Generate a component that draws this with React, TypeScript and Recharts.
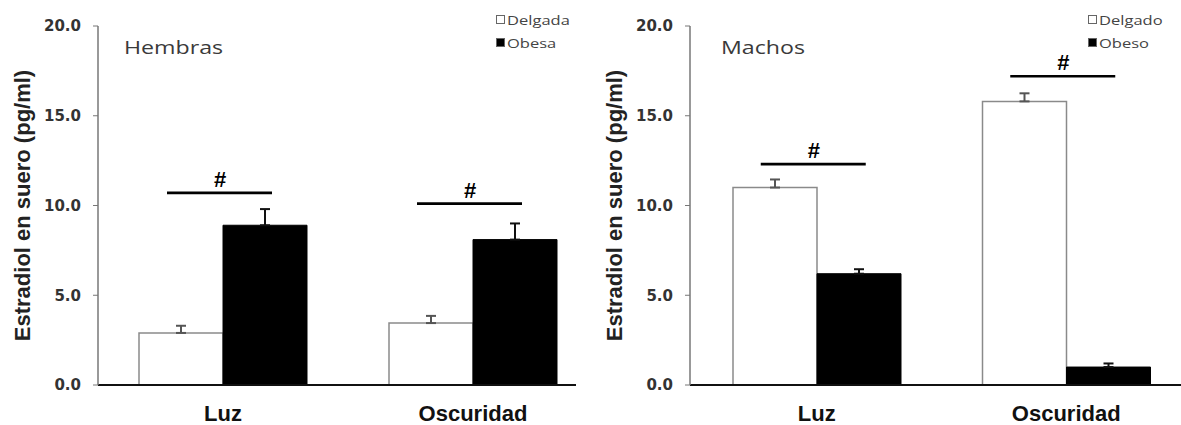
import {
  Bar,
  ComposedChart,
  ErrorBar,
  Legend,
  ReferenceDot,
  XAxis,
  YAxis,
} from "recharts";

const groups = ["Luz", "Oscuridad"];
const yTicks = [0, 5, 10, 15, 20];
const yTitle = "Estradiol en suero (pg/ml)";

// Hembras
const femaleNames = ["Delgada", "Obesa"];
const femaleLean = [2.9, 3.45];
const femaleLeanErr = [0.4, 0.4];
const femaleObese = [8.9, 8.1];
const femaleObeseErr = [0.9, 0.9];
const femaleSig = [10.7, 10.1];

// Machos
const maleNames = ["Delgado", "Obeso"];
const maleLean = [11.0, 15.8];
const maleLeanErr = [0.45, 0.45];
const maleObese = [6.2, 1.0];
const maleObeseErr = [0.25, 0.2];
const maleSig = [12.3, 17.2];

type PanelProps = {
  title: string;
  titleLeft: number;
  names: string[];
  lean: number[];
  leanErr: number[];
  obese: number[];
  obeseErr: number[];
  sig: number[];
  left: number;
  width: number;
  padLeft: number;
  padRight: number;
};

function renderYTitle(props: any) {
  const vb = props.viewBox || { x: 0, y: 26, width: 98, height: 359 };
  const x = vb.x + 22;
  const y = vb.y + vb.height / 2;
  return (
    <text
      x={x}
      y={y}
      transform={`rotate(-90 ${x} ${y})`}
      textAnchor="middle"
      dominantBaseline="central"
      fontFamily="Liberation Sans, Arial, sans-serif"
      fontWeight="bold"
      fontSize={22}
      fill="#222"
    >
      {yTitle}
    </text>
  );
}

// horizontal bar with "#" above it, centred on the group
function SigMark(props: any) {
  const { cx, cy } = props;
  return (
    <g>
      <line
        x1={cx - 56}
        x2={cx + 49}
        y1={cy}
        y2={cy}
        stroke="#000"
        strokeWidth={2.7}
      />
      <text
        x={cx - 3}
        y={cy - 6}
        textAnchor="middle"
        fontFamily="Liberation Sans, Arial, sans-serif"
        fontWeight="bold"
        fontSize={22}
        fill="#000"
      >
        #
      </text>
    </g>
  );
}

function LegendBox(props: any) {
  const payload = props.payload || [];
  return (
    <div style={{ display: "flex", flexDirection: "column" }}>
      {payload.map((entry: any) => (
        <div
          key={entry.value}
          style={{ height: 23, display: "flex", alignItems: "center" }}
        >
          <span
            style={{
              display: "inline-block",
              width: 7,
              height: 7,
              border: "1px solid #666",
              background: entry.color,
              marginRight: 2,
            }}
          />
          <span
            style={{
              display: "inline-block",
              fontFamily: "Open Sans, sans-serif",
              fontSize: 13,
              color: "#444",
              transform: "scaleX(1.27)",
              transformOrigin: "left center",
              whiteSpace: "nowrap",
            }}
          >
            {entry.value}
          </span>
        </div>
      ))}
    </div>
  );
}

function Panel({
  title,
  titleLeft,
  names,
  lean,
  leanErr,
  obese,
  obeseErr,
  sig,
  left,
  width,
  padLeft,
  padRight,
}: PanelProps) {
  const data = groups.map((g, i) => ({
    group: g,
    lean: lean[i],
    obese: obese[i],
    leanErr: [0, leanErr[i]],
    obeseErr: [0, obeseErr[i]],
  }));

  return (
    <div style={{ position: "absolute", left, top: 0, width, height: 425 }}>
      <ComposedChart
        width={width}
        height={425}
        data={data}
        margin={{ top: 26, right: 0, bottom: 0, left: 0 }}
        barGap={0}
        barSize={84}
      >
        <XAxis
          dataKey="group"
          type="category"
          height={40}
          padding={{ left: padLeft, right: padRight }}
          axisLine={{ stroke: "#111", strokeWidth: 2 }}
          tickLine={false}
          tickMargin={14}
          tick={{
            fontFamily: "Liberation Sans, Arial, sans-serif",
            fontWeight: "bold",
            fontSize: 22,
            fill: "#111",
          }}
        />
        <YAxis
          type="number"
          domain={[0, 20]}
          ticks={yTicks}
          interval={0}
          width={98}
          tickFormatter={(v: number) => v.toFixed(1)}
          axisLine={{ stroke: "#777", strokeWidth: 1.5 }}
          tickLine={{ stroke: "#777" }}
          tickSize={5}
          tickMargin={12}
          tick={{
            fontFamily: "DejaVu Sans, sans-serif",
            fontWeight: "bold",
            fontSize: 15,
            fill: "#333",
          }}
          label={{ value: yTitle, content: renderYTitle }}
        />
        <Legend
          layout="vertical"
          align="center"
          verticalAlign="middle"
          wrapperStyle={{ top: 8, left: 496, width: "auto" }}
          content={LegendBox}
        />
        <Bar
          dataKey="lean"
          name={names[0]}
          fill="#ffffff"
          stroke="#8a8a8a"
          strokeWidth={1.5}
          isAnimationActive={false}
        >
          <ErrorBar
            dataKey="leanErr"
            direction="y"
            width={5}
            stroke="#555"
            strokeWidth={2}
            isAnimationActive={false}
          />
        </Bar>
        <Bar
          dataKey="obese"
          name={names[1]}
          fill="#000000"
          stroke="#000000"
          isAnimationActive={false}
        >
          <ErrorBar
            dataKey="obeseErr"
            direction="y"
            width={5}
            stroke="#111"
            strokeWidth={2}
            isAnimationActive={false}
          />
        </Bar>
        {groups.map((g, i) => (
          <ReferenceDot
            key={g}
            x={g}
            y={sig[i]}
            r={0}
            ifOverflow="visible"
            shape={SigMark}
          />
        ))}
      </ComposedChart>
      <div
        style={{
          position: "absolute",
          left: titleLeft,
          top: 37,
          lineHeight: "20px",
          fontFamily: "Open Sans, sans-serif",
          fontSize: 19,
          color: "#3a3a3a",
          transform: "scaleX(1.22)",
          transformOrigin: "left center",
          whiteSpace: "nowrap",
        }}
      >
        {title}
      </div>
    </div>
  );
}

export default function App() {
  return (
    <div
      style={{
        position: "absolute",
        left: 0,
        top: 0,
        width: 1181,
        height: 425,
        overflow: "hidden",
        background: "#fff",
        fontFamily: "Liberation Sans, Arial, sans-serif",
      }}
    >
      <Panel
        title="Hembras"
        titleLeft={124}
        names={femaleNames}
        lean={femaleLean}
        leanErr={femaleLeanErr}
        obese={femaleObese}
        obeseErr={femaleObeseErr}
        sig={femaleSig}
        left={0}
        width={576}
        padLeft={0}
        padRight={-22}
      />
      <Panel
        title="Machos"
        titleLeft={129}
        names={maleNames}
        lean={maleLean}
        leanErr={maleLeanErr}
        obese={maleObese}
        obeseErr={maleObeseErr}
        sig={maleSig}
        left={592}
        width={599}
        padLeft={2}
        padRight={0}
      />
    </div>
  );
}
